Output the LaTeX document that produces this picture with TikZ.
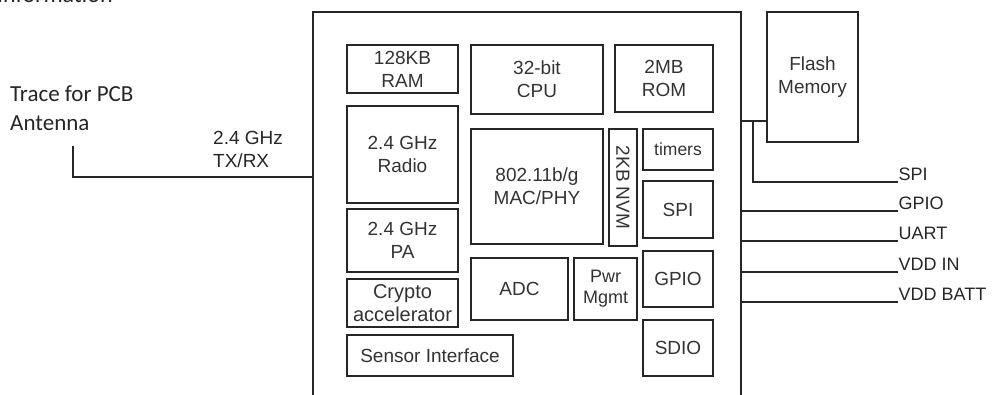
\documentclass[tikz,border=0pt]{standalone}
\usepackage{fontspec}
\setmainfont{Liberation Sans}
\newfontfamily\calibri{Carlito}
\usetikzlibrary{positioning}

\begin{document}
\begin{tikzpicture}[
    x=1pt, y=-1pt,
    wire/.style={line width=1.2pt, color=black!85},
    chipbox/.style={draw=black!85, line width=1.2pt, inner sep=0pt},
    blk/.style={draw=black!85, line width=1.1pt, inner sep=0pt, align=center,
                text=black!80, font=\fontsize{19}{23}\selectfont},
    pinlbl/.style={inner sep=1.5pt, text=black!85, font=\fontsize{18}{20}\selectfont},
    note/.style={align=left, inner sep=0pt, text=black!85},
  ]
  \useasboundingbox (0,0) rectangle (992,395);

  % --- heading cut off at the top ---
  \node[anchor=base west, inner sep=0pt, text=black!85,
        font=\calibri\fontsize{24}{28}\selectfont] (info) at (-3,2.5) {Information};

  % --- chip outline (open towards the bottom) ---
  \node[chipbox, minimum width=428pt, minimum height=408pt] (chip) at (527,216) {};

  % --- blocks inside the chip ---
  \node[blk, minimum width=111pt, minimum height=48pt] (ram) at (402.5,69) {128KB\\RAM};
  \node[blk, minimum width=132pt, minimum height=69pt] (cpu) at (537,79.5) {32-bit\\CPU};
  \node[blk, minimum width=98pt, minimum height=67pt] (rom) at (664,78.5) {2MB\\ROM};
  \node[blk, minimum width=111pt, minimum height=97pt] (radio) at (402.5,154.5) {2.4 GHz\\Radio};
  \node[blk, minimum width=132pt, minimum height=115pt] (mac) at (537,186.5) {802.11b/g\\MAC/PHY};
  \node[blk, minimum width=28pt, minimum height=117pt] (nvm) at (623,187.5) {\rotatebox{-90}{2KB NVM}};
  \node[blk, minimum width=70pt, minimum height=41pt, font=\fontsize{17.5}{20}\selectfont] (timers) at (678,149.5) {timers};
  \node[blk, minimum width=70pt, minimum height=57pt] (spi) at (678,209.5) {SPI};
  \node[blk, minimum width=111pt, minimum height=63pt] (pa) at (402.5,240.5) {2.4 GHz\\PA};
  \node[blk, minimum width=111pt, minimum height=48pt, font=\fontsize{20}{23}\selectfont] (crypto) at (402.5,303) {Crypto\\accelerator};
  \node[blk, minimum width=97pt, minimum height=62pt] (adc) at (519.5,289) {ADC};
  \node[blk, minimum width=63pt, minimum height=62pt, font=\fontsize{18}{21}\selectfont] (pwr) at (605.5,289) {Pwr\\Mgmt};
  \node[blk, minimum width=70pt, minimum height=56pt] (gpio) at (678,279) {GPIO};
  \node[blk, minimum width=166pt, minimum height=41pt] (sensor) at (430,355.5) {Sensor Interface};
  \node[blk, minimum width=70pt, minimum height=56pt] (sdio) at (678,348) {SDIO};

  % --- external flash ---
  \node[blk, minimum width=91pt, minimum height=130pt] (flash) at (812.5,77) {Flash\\Memory};

  % --- antenna side ---
  \node[note, anchor=west, font=\calibri\fontsize{23}{29}\selectfont] (trace) at (10,108) {Trace for PCB\\Antenna};
  \node[note, anchor=west, font=\fontsize{19}{23}\selectfont] (txrx) at (213,149) {2.4 GHz\\TX/RX};
  \coordinate (antTop) at (73,146);
  \coordinate (antBend) at (73,177);
  \draw[wire] (antTop) -- (antBend) -- (chip.west |- antBend);

  % --- pins on the right ---
  \coordinate (fj) at (753,121);
  \coordinate (pspi) at (898,182);
  \coordinate (pgpio) at (898,211);
  \coordinate (puart) at (898,241);
  \coordinate (pvin) at (898,272);
  \coordinate (pvbat) at (898,302);

  \draw[wire] (chip.east |- fj) -- (flash.west |- fj);
  \draw[wire] (fj) |- (pspi);
  \foreach \p in {pgpio,puart,pvin,pvbat}
    \draw[wire] (chip.east |- \p) -- (\p);

  \node[pinlbl, above right=0pt and -1pt of pspi] (lspi) {SPI};
  \node[pinlbl, above right=0pt and -1pt of pgpio] (lgpio) {GPIO};
  \node[pinlbl, above right=0pt and -1pt of puart] (luart) {UART};
  \node[pinlbl, above right=0pt and -1pt of pvin] (lvin) {VDD IN};
  \node[pinlbl, above right=0pt and -1pt of pvbat] (lvbat) {VDD BATT};
\end{tikzpicture}
\end{document}
